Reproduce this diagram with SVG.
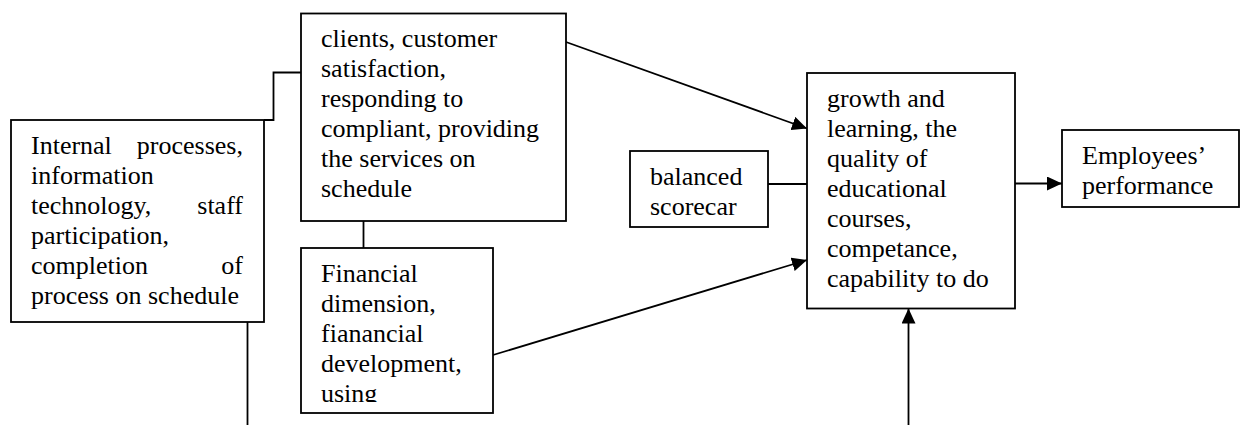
<svg xmlns="http://www.w3.org/2000/svg" width="1241" height="425" viewBox="0 0 1241 425">
  <style>
    .box { fill: #ffffff; stroke: #000000; stroke-width: 1.8; }
    .lbl { font-family: "Liberation Serif", "Times New Roman", serif; font-size: 26px; fill: #000000; }
    .end { text-anchor: end; }
    .con { fill: none; stroke: #000000; stroke-width: 1.8; }
  </style>
  <defs>
    <marker id="arrow" markerUnits="userSpaceOnUse" markerWidth="16" markerHeight="14" refX="15" refY="7" orient="auto">
      <path d="M0,0 L15,7 L0,14 z" fill="#000000"/>
    </marker>
    <clipPath id="clipC"><rect x="301" y="248" width="192" height="154"/></clipPath>
    <clipPath id="clipE"><rect x="807" y="73" width="208" height="227"/></clipPath>
  </defs>

  <g id="connectors">
    <polyline class="con" points="264,120 273.5,120 273.5,72.5 301,72.5"/>
    <line class="con" x1="247.5" y1="322" x2="247.5" y2="425"/>
    <line class="con" x1="363.5" y1="221" x2="363.5" y2="248"/>
    <line class="con" x1="566" y1="42" x2="807" y2="128.5" marker-end="url(#arrow)"/>
    <line class="con" x1="493" y1="355" x2="807" y2="260" marker-end="url(#arrow)"/>
    <line class="con" x1="768" y1="184" x2="807" y2="184"/>
    <line class="con" x1="908.5" y1="425" x2="908.5" y2="308.5" marker-end="url(#arrow)"/>
    <line class="con" x1="1015" y1="183.5" x2="1062" y2="183.5" marker-end="url(#arrow)"/>
  </g>

  <g id="internal">
    <rect class="box" x="11" y="120" width="253" height="202"/>
    <text class="lbl" x="31" y="154">Internal</text>
    <text class="lbl end" x="243" y="154">processes,</text>
    <text class="lbl" x="31" y="184">information</text>
    <text class="lbl" x="31" y="214">technology,</text>
    <text class="lbl end" x="243" y="214">staff</text>
    <text class="lbl" x="31" y="244">participation,</text>
    <text class="lbl" x="31" y="274">completion</text>
    <text class="lbl end" x="243" y="274">of</text>
    <text class="lbl" x="31" y="304">process on schedule</text>
  </g>

  <g id="clients">
    <rect class="box" x="301" y="13.5" width="265" height="207.5"/>
    <text class="lbl" x="321" y="47">clients, customer</text>
    <text class="lbl" x="321" y="77">satisfaction,</text>
    <text class="lbl" x="321" y="107">responding to</text>
    <text class="lbl" x="321" y="137">compliant, providing</text>
    <text class="lbl" x="321" y="167">the services on</text>
    <text class="lbl" x="321" y="197">schedule</text>
  </g>

  <g id="financial">
    <rect class="box" x="301" y="248" width="192" height="165"/>
    <g clip-path="url(#clipC)">
      <text class="lbl" x="321" y="282">Financial</text>
      <text class="lbl" x="321" y="312">dimension,</text>
      <text class="lbl" x="321" y="342">fianancial</text>
      <text class="lbl" x="321" y="372">development,</text>
      <text class="lbl" x="321" y="402">using</text>
    </g>
  </g>

  <g id="balanced">
    <rect class="box" x="630" y="151" width="138" height="76"/>
    <text class="lbl" x="650" y="185">balanced</text>
    <text class="lbl" x="650" y="215">scorecar</text>
  </g>

  <g id="growth">
    <rect class="box" x="807" y="73" width="208" height="235.5"/>
    <g clip-path="url(#clipE)">
      <text class="lbl" x="827" y="107">growth and</text>
      <text class="lbl" x="827" y="137">learning, the</text>
      <text class="lbl" x="827" y="167">quality of</text>
      <text class="lbl" x="827" y="197">educational</text>
      <text class="lbl" x="827" y="227">courses,</text>
      <text class="lbl" x="827" y="257">competance,</text>
      <text class="lbl" x="827" y="287">capability to do</text>
    </g>
  </g>

  <g id="performance">
    <rect class="box" x="1062" y="130" width="177" height="77"/>
    <text class="lbl" x="1082" y="164">Employees’</text>
    <text class="lbl" x="1082" y="194">performance</text>
  </g>
</svg>
